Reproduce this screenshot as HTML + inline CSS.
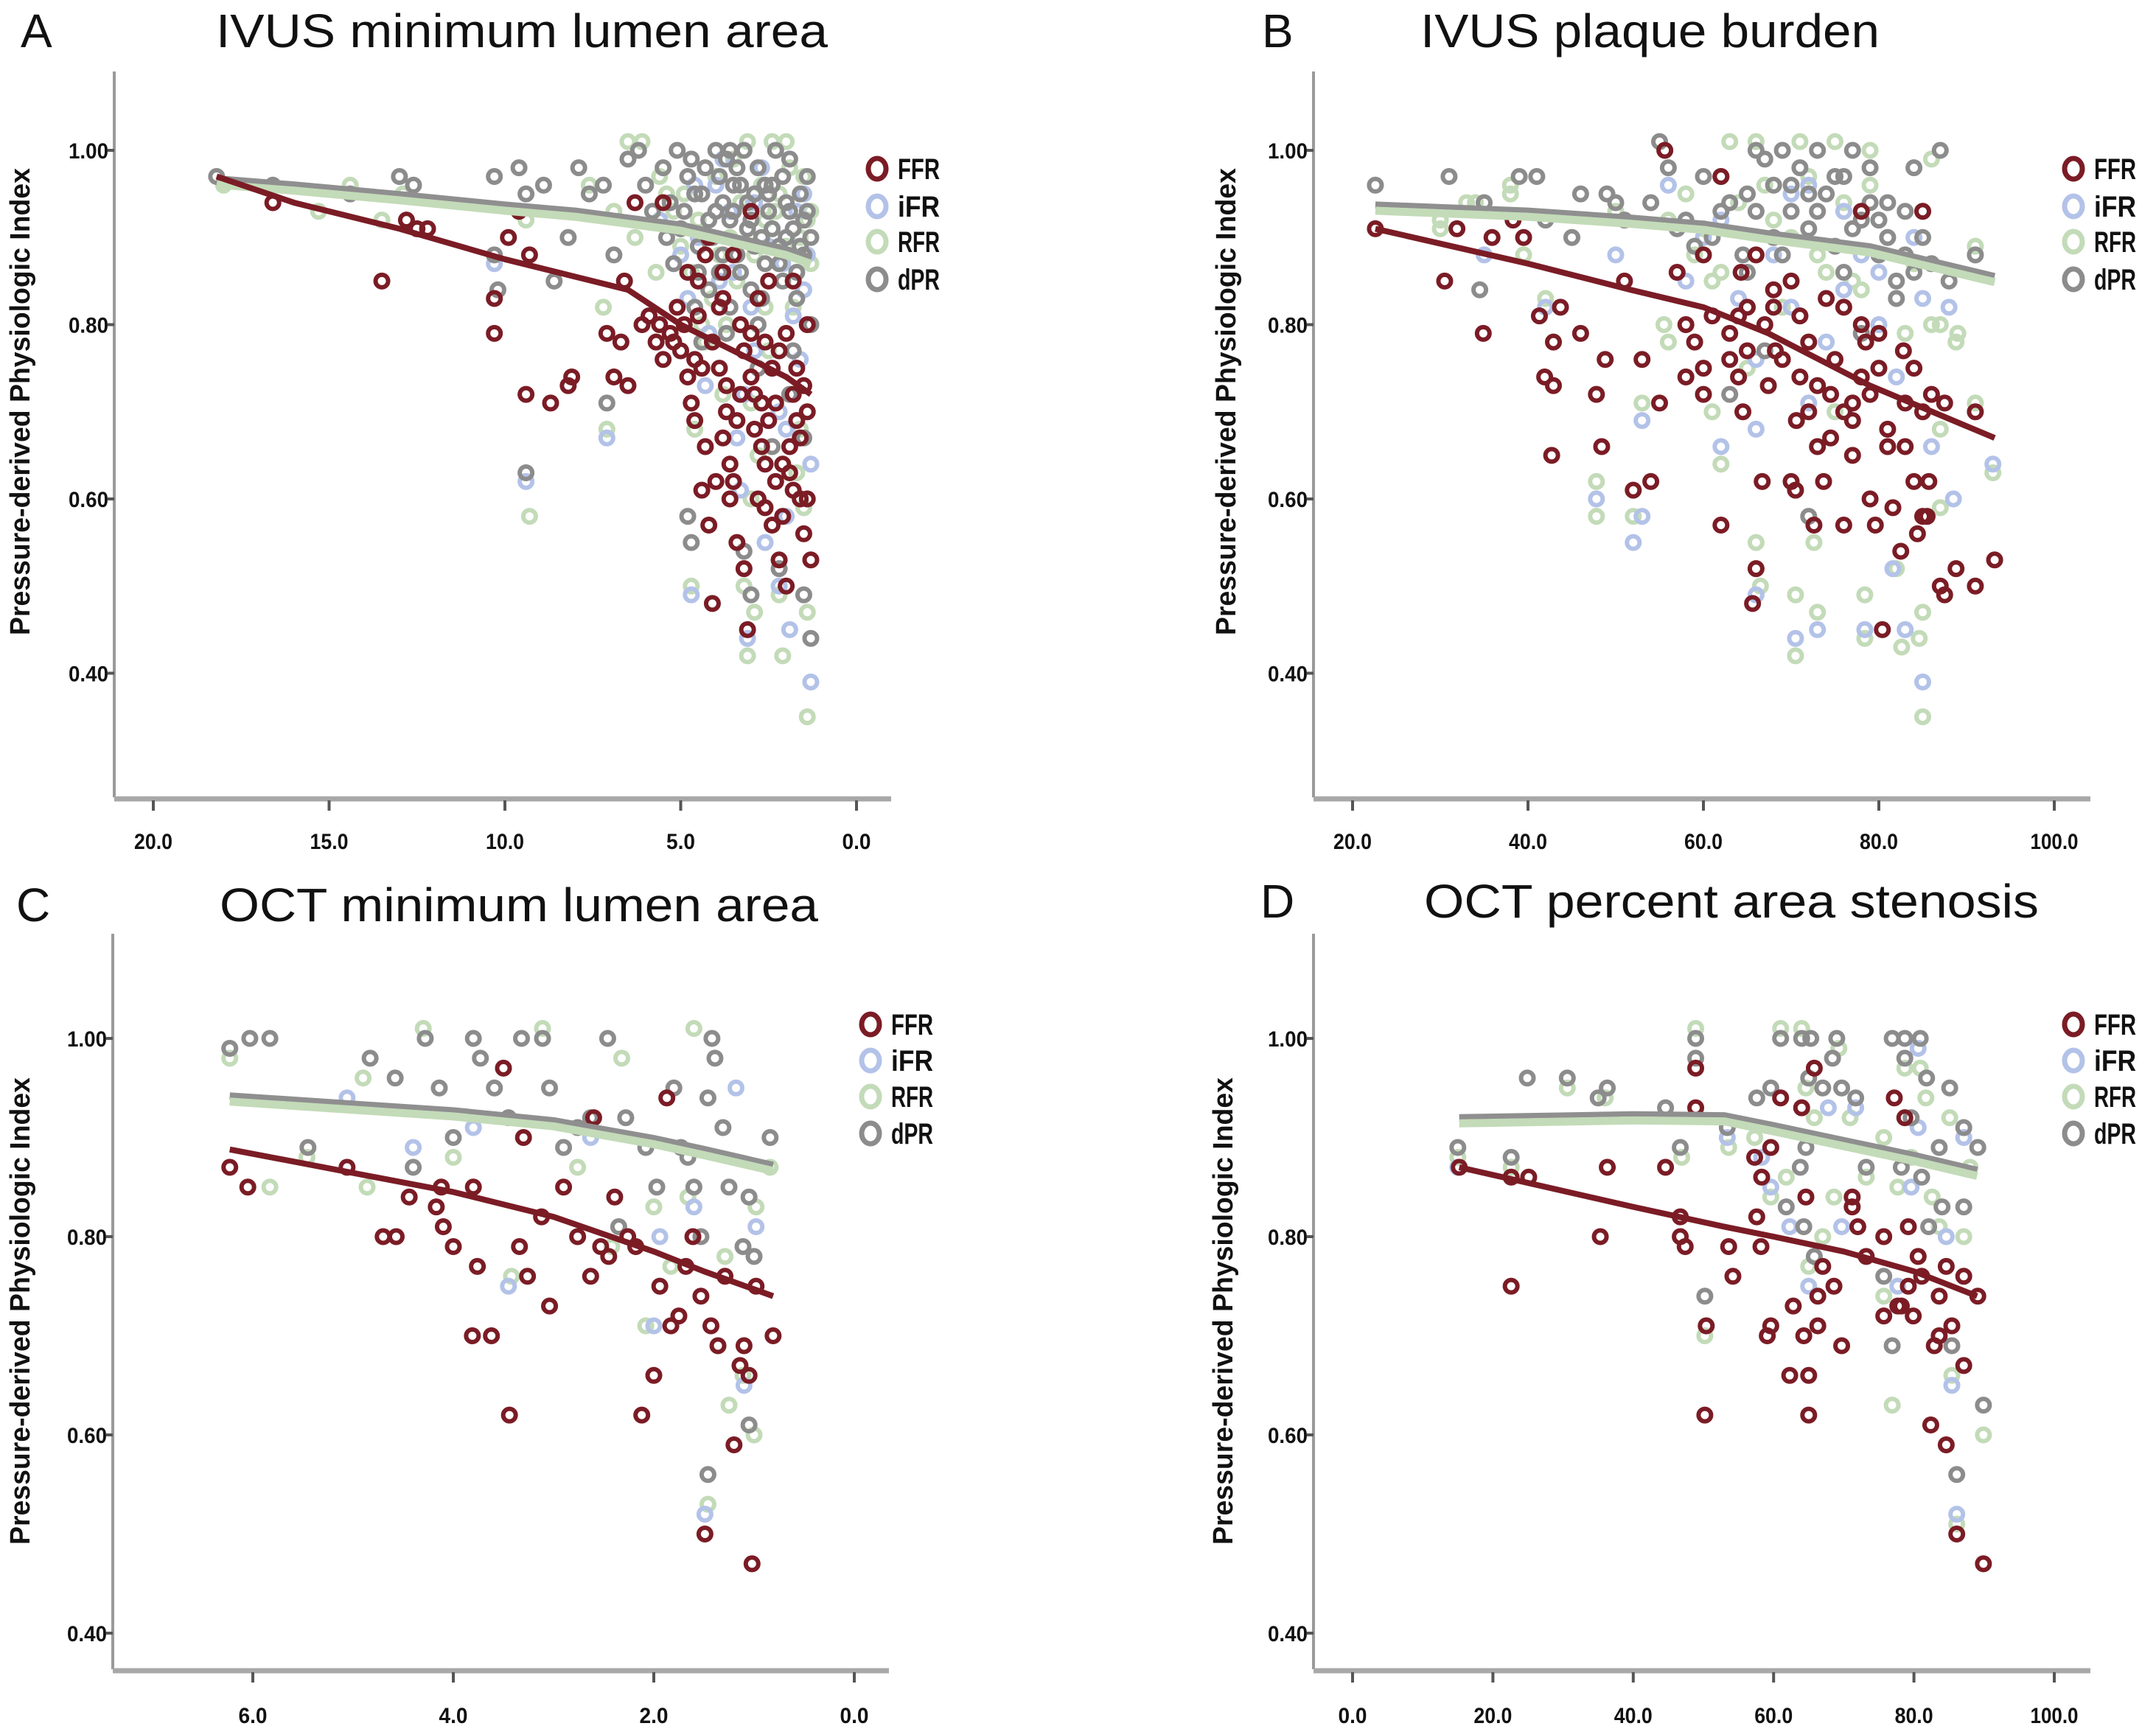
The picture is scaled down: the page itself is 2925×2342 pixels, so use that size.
<!DOCTYPE html>
<html><head><meta charset="utf-8"><style>
html,body{margin:0;padding:0;background:#fff;}
svg{display:block;}
text{font-family:"Liberation Sans",sans-serif;}
.tk{font-weight:bold;font-size:30px;fill:#111;}
.lg{font-weight:bold;font-size:40px;fill:#111;}
.ttl{font-size:64px;fill:#111;}
.yt{font-weight:bold;font-size:38px;fill:#111;}
</style></head><body>
<svg id="fig" width="2925" height="2342" viewBox="0 0 2925 2342" xmlns="http://www.w3.org/2000/svg"></svg>
<script>
// ---------- Panel A: IVUS minimum lumen area ----------
const aFfrX=[16.6,13.5,12.8,12.2,12.5,10.3,10.3,9.9,9.4,9.3,9.6,8.7,8.2,8.1,7.1,6.7,6.9,6.5,6.6,6.3,6.1,5.9,5.7,5.6,5.5,5.3,5.1,5.0,4.9,4.8,4.7,4.6,4.5,4.4,4.3,4.2,4.1,4.0,3.9,3.8,3.7,3.6,3.5,3.4,3.3,3.2,3.1,3.0,2.9,2.8,2.7,2.6,2.5,2.4,2.3,2.2,2.1,2.0,1.9,1.8,1.7,1.6,1.5,1.4,1.3,1.4,2.5,3.5,4.2,5.5,3.0,2.2,1.8,2.6,3.8,4.8,
 4.5,4.1,3.7,3.4,3.0,2.7,2.3,1.9,1.6,4.3,3.9,3.2,2.8,2.0,1.5,5.2,4.6,3.6,2.4,1.7,3.3,2.9,2.1,1.4,3.8,4.4,2.6,1.8];
const aFfrY=[.94,.85,.92,.91,.91,.83,.79,.90,.72,.88,.93,.71,.73,.74,.79,.78,.74,.73,.85,.94,.80,.81,.78,.80,.76,.79,.82,.77,.80,.74,.71,.76,.85,.61,.66,.57,.48,.62,.75,.67,.70,.64,.62,.55,.72,.52,.45,.79,.68,.60,.71,.59,.69,.57,.62,.53,.58,.50,.66,.61,.75,.60,.56,.70,.53,.80,.85,.88,.90,.94,.93,.77,.72,.64,.83,.86,
 .81,.78,.73,.69,.74,.66,.71,.63,.67,.88,.82,.77,.83,.79,.73,.78,.69,.60,.75,.69,.80,.72,.64,.60,.86,.75,.78,.85];
const aIfrX=[9.4,7.1,10.3,4.7,3.1,2.2,1.9,1.3,1.3,2.0,3.4,4.3,1.5,2.5,3.6,4.5,5.6,1.8,2.9,3.9,1.4,2.2,5.0,4.0,2.7,1.6,3.3,2.6,
 4.8,4.2,3.5,3.0,2.4,1.7,4.6,3.8,2.9,2.1,1.5,3.2,2.0];
const aIfrY=[.62,.67,.87,.49,.44,.50,.45,.39,.64,.58,.67,.73,.95,.89,.93,.90,.92,.81,.77,.85,.88,.70,.88,.96,.98,.76,.61,.55,
 .83,.79,.86,.82,.91,.93,.96,.99,.94,.87,.84,.72,.68];
const aRfrX=[18.0,14.4,15.3,13.5,12.9,9.3,9.4,7.1,7.2,6.9,6.5,6.1,5.6,5.4,5.0,4.7,3.2,3.1,2.9,2.1,2.2,1.4,1.4,1.5,1.7,2.8,3.8,4.4,3.5,3.1,2.4,2.0,1.5,1.3,2.6,3.9,4.2,1.8,2.5,3.0,4.6,1.6,5.7,6.3,7.6,
 4.9,4.5,4.0,3.6,3.3,2.7,2.3,1.9,1.6,1.4,4.7,4.1,3.4,2.9,2.2,1.7,5.2,3.7,2.6,2.0,1.3,4.3,3.0];
const aRfrY=[.96,.96,.93,.92,.95,.58,.92,.68,.82,.93,1.01,1.01,.97,.95,.89,.50,.50,.42,.47,.42,.49,.35,.47,.59,.63,.65,.72,.80,.99,1.01,1.01,1.01,.97,.87,.92,.88,.84,.82,.77,.60,.68,.68,.86,.90,.96,
 .95,.92,.97,.90,.94,.96,.93,.98,.90,.92,.86,.83,.85,.88,.95,.86,.93,.80,.82,.89,.93,.78,.71];
const aDprX=[18.2,16.6,14.4,13.0,12.6,10.3,9.6,9.4,8.9,10.3,10.2,8.6,8.2,7.9,7.6,7.2,6.9,6.5,6.2,6.0,5.8,5.5,5.3,5.1,5.0,4.8,4.6,4.5,4.3,4.2,4.0,3.9,3.8,3.7,3.6,3.5,3.4,3.3,3.2,3.1,3.0,2.9,2.8,2.7,2.6,2.5,2.4,2.3,2.2,2.1,2.0,1.9,1.8,1.7,1.6,1.5,1.4,1.3,9.4,7.1,4.8,4.7,3.2,3.0,2.2,1.5,1.3,1.5,2.8,3.6,4.4,1.9,2.4,
 4.9,4.7,4.4,4.1,3.9,3.6,3.4,3.1,2.9,2.6,2.4,2.1,1.9,1.6,1.4,4.5,4.0,3.5,3.0,2.5,2.0,1.5,4.6,4.2,3.8,3.3,2.7,2.2,1.7,1.3,3.7,2.8,1.8,5.4,5.2];
const aDprY=[.97,.96,.95,.97,.96,.97,.98,.95,.96,.88,.84,.85,.90,.98,.95,.96,.88,.99,1.00,.96,.93,.98,.94,1.00,.91,.97,.95,.89,.98,.92,1.00,.86,.94,.99,1.00,.93,.88,.96,1.00,.91,.84,.95,.98,.90,.87,.93,.96,1.00,.89,.85,.94,.99,.91,.83,.95,.88,.93,.80,.63,.71,.58,.55,.54,.49,.52,.49,.44,.67,.75,.82,.78,.72,.66,
 .93,.99,.95,.90,.97,.92,.98,.94,.89,.96,.91,.97,.93,.89,.97,.86,.93,.96,.92,.95,.90,.92,.82,.84,.88,.86,.83,.87,.86,.90,.79,.80,.77,.90,.87];
const aFitX=[18.2,16,13,10,8,6.5,5,3.5,2,1.3];
const aFitFfr=[.97,.94,.91,.875,.855,.84,.80,.77,.74,.72];
const aFitOther=[.965,.958,.947,.935,.928,.92,.912,.898,.884,.874];
const aXTicks=[20,15,10,5,0];
const aXLabels=["20.0","15.0","10.0","5.0","0.0"];

// ---------- Panel B: IVUS plaque burden ----------
const bFfrX=[22.6,30.5,31.9,34.9,35.9,39.5,38.3,41.3,42.9,41.9,42.9,42.7,43.7,46,47.8,48.4,48.8,51,52,53,54,55,58,58,60,60,62,63,64,64.5,65,66,65.6,66.7,67.4,68,70,70.5,71,72,72.6,73,73.7,74.5,76,76,77,78,79,79.6,80.4,81,81.6,82.5,83,84,84.4,85,85.7,87,87.5,87.5,88.8,91,91,93.2,85.5,85,78,64.3,68.2,74.5,78.5,82.8,70.6,62,55.6,77,80,
 57,59,61,63,65,67,69,71,73,75,77,79,81,83,85,66,70,74,78,72,68,64,60,76,80,84,86];
const bFfrY=[.91,.85,.91,.79,.90,.90,.92,.81,.78,.74,.73,.65,.82,.79,.72,.66,.76,.85,.61,.76,.62,.71,.80,.74,.75,.72,.57,.76,.74,.70,.82,.52,.48,.62,.73,.82,.62,.61,.74,.70,.57,.66,.62,.67,.57,.70,.69,.74,.60,.57,.45,.66,.59,.54,.71,.62,.56,.58,.62,.50,.49,.71,.52,.70,.50,.53,.58,.93,.93,.86,.77,.72,.78,.77,.69,.97,1.0,.65,.75,
 .86,.78,.81,.79,.77,.80,.76,.81,.73,.76,.71,.72,.68,.66,.70,.88,.85,.83,.80,.78,.84,.81,.88,.82,.79,.75,.72];
const bIfrX=[35,47.8,53,52,53,62,66,70.5,73,78.4,81.6,83,85,88.5,93,91,66,72,60,70,76,80,85,56,42,50,64,74,82,86,
 58,62,68,72,76,80,84,88,66,70,78];
const bIfrY=[.88,.60,.69,.55,.58,.66,.49,.44,.45,.45,.52,.45,.39,.60,.64,.88,.68,.71,.90,.95,.93,.86,.83,.96,.82,.88,.83,.78,.74,.66,
 .85,.92,.88,.96,.84,.80,.90,.82,.76,.82,.88];
const bRfrX=[22.6,30,34,38,39.5,42,47.8,47.8,52,53,55.5,56,61,62,66,66.5,70.5,70.5,72.6,73,78.4,78.4,82,82.6,84.6,85,85,87,88.8,91,93,91,86,79,75,71,66,63,58,50,45,68,77,83,86,61,73,80,65,75,87,
 30,33,38,56,59,64,67,70,72,74,76,78,81,84,87,89,69,79,83,60,62];
const bRfrY=[.96,.92,.94,.96,.88,.83,.62,.58,.58,.71,.80,.78,.70,.64,.55,.50,.49,.42,.55,.47,.49,.44,.52,.43,.44,.47,.35,.59,.78,.71,.63,.89,.99,1.0,1.01,1.01,1.01,1.01,.95,.93,.90,.92,.85,.79,.80,.85,.88,.92,.75,.70,.68,
 .91,.94,.95,.92,.88,.94,.96,.90,.97,.86,.94,.84,.90,.87,.80,.79,.82,.96,.88,.91,.86];
const bDprX=[22.6,31,34.5,35,39,41,42,45,46,49,50,51,55,56,57,60,62,63,64.5,66,67,68,69,70,71,72,73,74,75,76,77,78,79,80,81,82,83,84,85,86,87,88,91,63,67,72,71,78,82,65,
 54,58,61,65,68,70,73,75,77,79,81,83,85,66,69,72,76,80,84,59,62];
const bDprY=[.96,.97,.84,.94,.97,.97,.92,.90,.95,.95,.94,.92,1.01,.98,.91,.97,.97,.94,.88,1.0,.99,.96,1.0,.93,.98,.91,1.0,.95,.89,.97,1.0,.92,.94,.88,.90,.85,.93,.98,.90,.87,1.0,.85,.88,.72,.77,.58,.81,.79,.83,.86,
 .94,.92,.90,.95,.90,.96,.93,.97,.91,.98,.94,.88,.93,.93,.88,.95,.86,.92,.86,.89,.93];
const bFitX=[22.6,40,51.7,60,67.4,79,93.2];
const bFitFfr=[.91,.87,.84,.82,.79,.73,.67];
const bFitOther=[.935,.928,.92,.913,.902,.887,.853];
const bXTicks=[20,40,60,80,100];
const bXLabels=["20.0","40.0","60.0","80.0","100.0"];

// ---------- Panel C: OCT minimum lumen area ----------
const cFfrX=[6.23,6.05,5.06,4.7,4.57,4.44,4.17,4.12,4.0,4.1,3.81,3.76,3.8,3.62,3.44,3.34,3.26,3.12,3.04,2.9,2.76,2.63,2.53,2.45,2.39,2.26,2.18,2.12,2.0,1.94,1.83,1.75,1.68,1.61,1.53,1.49,1.43,1.36,1.29,1.2,1.14,1.1,1.05,1.02,.98,.81,3.5,2.6,1.87,3.3];
const cFfrY=[.87,.85,.87,.80,.80,.84,.83,.85,.79,.81,.70,.77,.85,.70,.62,.79,.76,.82,.73,.85,.80,.76,.79,.78,.84,.80,.79,.62,.66,.75,.71,.72,.77,.80,.74,.50,.71,.69,.76,.59,.67,.69,.66,.47,.75,.70,.97,.92,.94,.90];
const cIfrX=[6.23,3.45,3.8,2.0,1.49,1.1,.98,1.18,1.6,1.94,2.63,4.4,5.06];
const cIfrY=[.99,.75,.91,.71,.52,.65,.81,.95,.83,.80,.90,.89,.94];
const cRfrX=[6.23,5.83,5.46,4.9,4.3,4.0,3.42,3.11,2.76,2.32,2.08,2.0,1.83,1.6,1.46,1.29,1.25,1.11,1.0,.98,.84,1.66,2.42,4.86];
const cRfrY=[.98,.85,.88,.96,1.01,.88,.76,1.01,.87,.98,.71,.83,.77,1.01,.53,.78,.63,.66,.60,.83,.87,.84,.79,.85];
const cDprX=[6.23,6.03,5.83,5.45,4.83,4.58,4.4,4.28,4.14,4.0,3.8,3.73,3.59,3.45,3.32,3.11,3.04,2.9,2.76,2.63,2.46,2.35,2.28,2.08,1.97,1.8,1.73,1.6,1.53,1.42,1.39,1.31,1.25,1.11,1.05,1.0,1.46,1.05,.84,1.46,1.66];
const cDprY=[.99,1.0,1.0,.89,.98,.96,.87,1.0,.95,.90,1.0,.98,.95,.92,1.0,1.0,.95,.89,.91,.92,1.0,.81,.92,.89,.85,.95,.89,.85,.80,1.0,.98,.91,.85,.79,.84,.78,.56,.61,.90,.94,.88];
const cFitX=[6.23,4,3,2,1.5,.81];
const cFitFfr=[.888,.845,.82,.785,.765,.74];
const cFitOther=[.94,.925,.915,.897,.886,.87];
const cXTicks=[6,4,2,0];
const cXLabels=["6.0","4.0","2.0","0.0"];

// ---------- Panel D: OCT percent area stenosis ----------
const dFfrX=[15.2,22.6,25.1,22.6,35.3,36.3,44.6,46.7,46.7,47.4,48.9,48.9,50.2,50.4,53.6,54.2,57.3,57.6,58.2,58.3,59.1,59.6,59.6,61,62.3,62.8,64,64.3,64.6,65,65,65.8,66.3,66.3,67,68.6,69.7,71.2,71.2,72,73.2,75.7,75.7,77.2,77.7,78.2,79.2,79.2,79.9,80.6,81.1,82.4,82.9,83.6,83.6,84.6,84.6,85.4,86.1,87.1,87.1,89.1,89.9,78.7];
const dFfrY=[.87,.86,.86,.75,.80,.87,.87,.82,.80,.79,.97,.93,.62,.71,.79,.76,.88,.82,.79,.86,.70,.71,.89,.94,.66,.73,.93,.70,.84,.66,.62,.97,.71,.74,.77,.75,.69,.84,.83,.81,.78,.80,.72,.94,.73,.73,.81,.75,.72,.78,.76,.61,.69,.70,.74,.77,.59,.71,.50,.67,.76,.74,.47,.92];
const dIfrX=[15,50.4,53.4,58.3,59.6,62.3,65,67.8,69.7,77.7,80.6,80.6,79.6,85.4,86.1,87.1,84.6,71.7];
const dIfrY=[.87,.71,.90,.88,.85,.81,.75,.93,.81,.75,.99,.91,.85,.65,.52,.90,.80,.93];
const dRfrX=[15,22.6,30.6,36,46.9,48.9,50.2,53.6,57.3,59.6,61,61.8,64,64.6,65,65.8,67,68.6,69.3,70.9,73.2,75.7,75.7,76.9,77.7,78.7,79.6,80.9,81.7,82.6,83.6,85.1,85.4,86.1,87.1,89.9,88];
const dRfrY=[.88,.87,.95,.94,.88,1.01,.70,.89,.90,.84,1.01,.86,1.01,.95,.77,.92,.80,.84,.99,.92,.86,.90,.74,.63,.85,.97,.88,.97,.94,.84,.81,.92,.66,.51,.80,.60,.87];
const dDprX=[15,22.6,24.9,30.6,35,36.3,44.6,46.7,48.9,48.9,50.2,53.4,57.6,59.6,61,61.8,63.8,64,64.3,64.6,65,65.3,67,68.4,69,69.7,71.7,73.2,75.7,76.9,76.9,78.2,78.7,78.7,79.6,80.9,81.1,81.8,82.1,83.6,84,85.1,85.4,86.1,87.1,87.1,89.1,89.9,65.8];
const dDprY=[.89,.88,.96,.96,.94,.95,.93,.89,1.0,.98,.74,.91,.94,.95,1.0,.83,.87,1.0,.81,.89,.96,1.0,.95,.98,1.0,.95,.94,.87,.76,1.0,.69,.87,.98,1.0,.92,1.0,.86,.96,.81,.89,.83,.95,.69,.56,.83,.91,.89,.63,.78];
const dFitX=[15.2,40,53,60,70,80,89];
const dFitFfr=[.87,.83,.81,.80,.785,.765,.74];
const dFitOther=[.918,.921,.92,.91,.895,.88,.865];
const dXTicks=[0,20,40,60,80,100];
const dXLabels=["0.0","20.0","40.0","60.0","80.0","100.0"];

const yTicks=[1.0,0.8,0.6,0.4];
const yLabels=["1.00","0.80","0.60","0.40"];
const seriesNames=["FFR","iFR","RFR","dPR"];

const COL={FFR:"#7b1c25",iFR:"#b3c2e8",RFR:"#c3dbb8",dPR:"#8c8c8c"};
const NS="http://www.w3.org/2000/svg";
const svg=document.getElementById('fig');
function mk(tag,attrs,parent,txt){const e=document.createElementNS(NS,tag);for(const k in attrs)e.setAttribute(k,attrs[k]);if(txt!==undefined)e.textContent=txt;(parent||svg).appendChild(e);return e;}

function panel(cfg){
  const g=mk('g',{});
  
  
  const sx=v=>cfg.x0px+(v-cfg.x0v)*cfg.xk;
  const sy=v=>cfg.y1px+(1-v)*cfg.yk;
  const L=mk('text',{x:cfg.letterX,y:cfg.titleY,class:'ttl'},g,cfg.id);
  
  
  const T=mk('text',{x:cfg.titleX,y:cfg.titleY,class:'ttl',textLength:cfg.titleW,lengthAdjust:'spacingAndGlyphs'},g,cfg.title);
  
  
  const yt=mk('text',{x:0,y:0,class:'yt','text-anchor':'middle',textLength:634,lengthAdjust:'spacingAndGlyphs',transform:`translate(${cfg.ytX},${cfg.ytY}) rotate(-90)`},g,'Pressure-derived Physiologic Index');
  
  
  const ax=mk('g',{},g);
  
  
  mk('line',{x1:cfg.axX,y1:cfg.axTop,x2:cfg.axX,y2:cfg.axBot,stroke:'#9a9a9a','stroke-width':4},ax);
  mk('line',{x1:cfg.axX,y1:cfg.axBot+2,x2:cfg.axRight,y2:cfg.axBot+2,stroke:'#a8a8a8','stroke-width':7},ax);
  yTicks.forEach((t,i)=>{
    const y=sy(t);
    mk('line',{x1:cfg.axX-9,y1:y,x2:cfg.axX,y2:y,stroke:'#555','stroke-width':4},ax);
    const tl=mk('text',{x:cfg.axX-8,y:y+11,class:'tk','text-anchor':'end',textLength:54,lengthAdjust:'spacingAndGlyphs'},ax,yLabels[i]);
    
    
  });
  cfg.xTicks.forEach((t,i)=>{
    const x=sx(t);
    mk('line',{x1:x,y1:cfg.axBot+4,x2:x,y2:cfg.axBot+18,stroke:'#555','stroke-width':4},ax);
    const lab=cfg.xLabels[i];
    const tl=mk('text',{x:x,y:cfg.xlabY,class:'tk','text-anchor':'middle',textLength:lab.length*13,lengthAdjust:'spacingAndGlyphs'},ax,lab);
    
    
  });
  const order=[['RFR',cfg.rfrX,cfg.rfrY],['iFR',cfg.ifrX,cfg.ifrY],['dPR',cfg.dprX,cfg.dprY],['FFR',cfg.ffrX,cfg.ffrY]];
  order.forEach(([nm,xs,ys])=>{
    const sg=mk('g',{fill:'none',stroke:COL[nm],'stroke-width':6},g);
    
    
    xs.forEach((xv,i)=>{
      const c=mk('circle',{cx:sx(xv),cy:sy(ys[i]),r:8.5},sg);
      
      
    });
  });
  const pts=(ys,off)=>cfg.fitX.map((x,i)=>sx(x)+','+(sy(ys[i])+off)).join(' ');
  const l1=mk('polyline',{points:pts(cfg.fitOther,-3),fill:'none',stroke:'#8f8f8f','stroke-width':9,'stroke-linejoin':'round'},g);
  
  
  const l2=mk('polyline',{points:pts(cfg.fitOther,1),fill:'none',stroke:'#7a3f88','stroke-width':3},g);
  
  
  const l3=mk('polyline',{points:pts(cfg.fitOther,5),fill:'none',stroke:'#c3dbb8','stroke-width':11,'stroke-linejoin':'round'},g);
  
  
  const l4=mk('polyline',{points:pts(cfg.fitFfr,0),fill:'none',stroke:COL.FFR,'stroke-width':8,'stroke-linejoin':'round'},g);
  
  
  const lg=mk('g',{},g);
  
  
  seriesNames.forEach((nm,i)=>{
    const y=cfg.legY[i];
    const e=mk('g',{},lg);
    
    
    mk('ellipse',{cx:cfg.legX,cy:y,rx:12,ry:14,fill:'none',stroke:COL[nm],'stroke-width':7},e);
    mk('text',{x:cfg.legX+28,y:y+14,class:'lg',textLength:nm.length*19,lengthAdjust:'spacingAndGlyphs'},e,nm);
  });
}

panel({id:'A',title:'IVUS minimum lumen area',letterX:28,titleX:293,titleW:830,titleY:64,
  ytX:40,ytY:545,axX:155,axTop:97,axBot:1082,axRight:1209,x0v:0,x0px:1162,xk:-47.7,y1px:204,yk:1182.5,
  xTicks:aXTicks,xLabels:aXLabels,xlabY:1152,legX:1190,legY:[229,280,328,379],
  ffrX:aFfrX,ffrY:aFfrY,ifrX:aIfrX,ifrY:aIfrY,rfrX:aRfrX,rfrY:aRfrY,dprX:aDprX,dprY:aDprY,
  fitX:aFitX,fitFfr:aFitFfr,fitOther:aFitOther});
panel({id:'B',title:'IVUS plaque burden',letterX:1712,titleX:1927,titleW:623,titleY:64,
  ytX:1676,ytY:545,axX:1782,axTop:97,axBot:1082,axRight:2836,x0v:20,x0px:1835,xk:11.9,y1px:204,yk:1182.5,
  xTicks:bXTicks,xLabels:bXLabels,xlabY:1152,legX:2813,legY:[229,280,328,379],
  ffrX:bFfrX,ffrY:bFfrY,ifrX:bIfrX,ifrY:bIfrY,rfrX:bRfrX,rfrY:bRfrY,dprX:bDprX,dprY:bDprY,
  fitX:bFitX,fitFfr:bFitFfr,fitOther:bFitOther});
panel({id:'C',title:'OCT minimum lumen area',letterX:22,titleX:298,titleW:812,titleY:1250,
  ytX:40,ytY:1779,axX:153,axTop:1267,axBot:2265,axRight:1206,x0v:0,x0px:1159,xk:-136,y1px:1409,yk:1345,
  xTicks:cXTicks,xLabels:cXLabels,xlabY:2338,legX:1181,legY:[1390,1439,1488,1538],
  ffrX:cFfrX,ffrY:cFfrY,ifrX:cIfrX,ifrY:cIfrY,rfrX:cRfrX,rfrY:cRfrY,dprX:cDprX,dprY:cDprY,
  fitX:cFitX,fitFfr:cFitFfr,fitOther:cFitOther});
panel({id:'D',title:'OCT percent area stenosis',letterX:1710,titleX:1932,titleW:834,titleY:1245,
  ytX:1672,ytY:1779,axX:1782,axTop:1267,axBot:2265,axRight:2836,x0v:0,x0px:1835,xk:9.52,y1px:1409,yk:1345,
  xTicks:dXTicks,xLabels:dXLabels,xlabY:2338,legX:2813,legY:[1390,1439,1488,1538],
  ffrX:dFfrX,ffrY:dFfrY,ifrX:dIfrX,ifrY:dIfrY,rfrX:dRfrX,rfrY:dRfrY,dprX:dDprX,dprY:dDprY,
  fitX:dFitX,fitFfr:dFitFfr,fitOther:dFitOther});
</script>
</body></html>
